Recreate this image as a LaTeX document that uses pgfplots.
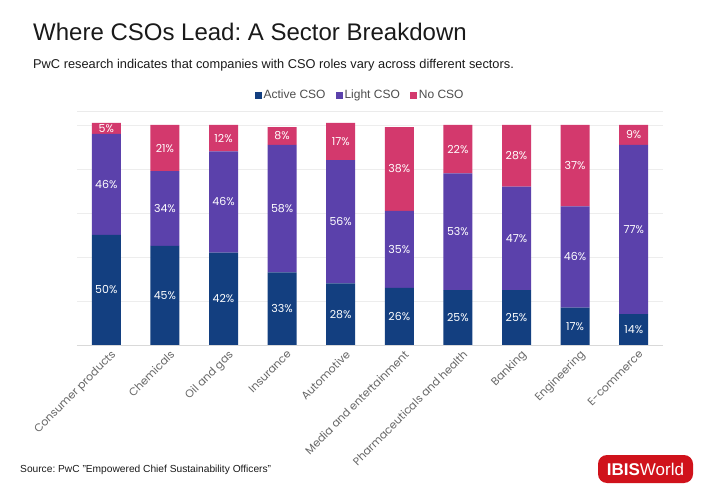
\documentclass[border=0pt]{standalone}
\usepackage{pgfplots}
\pgfplotsset{compat=1.18}
\usepackage{pgfplotstable}
\usepackage{fontspec}
\setmainfont{Liberation Sans}
\newfontfamily\pop{Poppins}
\definecolor{active}{HTML}{133F80}
\definecolor{lightc}{HTML}{5B41AB}
\definecolor{nocso}{HTML}{D3396D}
\definecolor{titlec}{HTML}{1A1A1A}
\definecolor{ibis}{HTML}{D0121B}
\pgfplotstableread{
x a l n
0 50 46 5
1 45 34 21
2 42 46 12
3 33 58 8
4 28 56 17
5 26 35 38
6 25 53 22
7 25 47 28
8 17 46 37
9 14 77 9
}\data
\frenchspacing
\begin{document}
\begin{tikzpicture}[x=1pt,y=1pt]
\path[use as bounding box] (0,0) rectangle (720,498);
\node[anchor=base west, inner sep=0, font=\fontsize{24}{24}\selectfont, text=titlec] at (33,457) {Where CSOs Lead: A Sector Breakdown};
\node[anchor=base west, inner sep=0, font=\fontsize{12.8}{12.8}\selectfont, text=titlec] at (33,429) {PwC research indicates that companies with CSO roles vary across different sectors.};
\draw[black!8, line width=0.8pt] (77,387) -- (663,387);
\begin{axis}[
  at={(77pt,153pt)}, anchor=south west,
  scale only axis, width=586pt, height=220pt,
  xmin=-0.5, xmax=9.5, ymin=0, ymax=100,
  ybar stacked, bar width=29pt,
  axis line style={draw=none},
  ytick={0,20,...,100}, yticklabels={},
  ymajorgrids, grid style={black!7, line width=0.8pt},
  major tick length=0pt,
  xtick={0,...,9},
  xticklabels={Consumer products, Chemicals, Oil and gas, Insurance, Automotive, Media and entertainment, Pharmaceuticals and health, Banking, Engineering, E-commerce},
  xticklabel style={rotate=45, anchor=north east, font=\pop\fontsize{11}{11}\selectfont, text=black!60, inner sep=1pt, xshift=1pt, yshift=-5pt},
  clip=false,
  legend style={at={(0.483,1.136)}, anchor=center, legend columns=-1, draw=none, fill=none, font=\fontsize{12}{12}\selectfont, text=black!70, /tikz/every even column/.append style={column sep=8pt}},
  legend image code/.code={\fill[#1] (0pt,-3.5pt) rectangle (7pt,3.5pt);},
]
\draw[black!15, line width=0.8pt] (axis cs:-0.5,0) -- (axis cs:9.5,0);
\addplot[fill=active, draw=none] table[x=x,y=a]{\data};
\addplot[fill=lightc, draw=none] table[x=x,y=l]{\data};
\addplot[fill=nocso, draw=none] table[x=x,y=n]{\data};
\legend{Active CSO, Light CSO, No CSO}
\end{axis}
\begin{axis}[
  at={(77pt,153pt)}, anchor=south west,
  scale only axis, width=586pt, height=220pt,
  xmin=-0.5, xmax=9.5, ymin=0, ymax=100,
  hide axis, clip=false,
  point meta=explicit,
  /pgf/number format/assume math mode=true,
  nodes near coords={\pgfmathprintnumber{\pgfplotspointmeta}\%},
  every node near coord/.append style={anchor=center, font=\pop\fontsize{11}{11}\selectfont, text=white},
]
\addplot[draw=none, mark=none] table[x=x, y expr=\thisrow{a}/2, meta=a]{\data};
\addplot[draw=none, mark=none] table[x=x, y expr=\thisrow{a}+\thisrow{l}/2, meta=l]{\data};
\addplot[draw=none, mark=none] table[x=x, y expr=\thisrow{a}+\thisrow{l}+\thisrow{n}/2, meta=n]{\data};
\end{axis}
\node[anchor=base west, inner sep=0, font=\fontsize{10.2}{10.2}\selectfont, text=titlec] at (20,26) {Source: PwC "Empowered Chief Sustainability Officers"};
\fill[ibis, rounded corners=9pt] (598,15) rectangle (693,43);
\node[text=white, font=\fontsize{17}{17}\selectfont, inner sep=0] at (645.5,29) {\textbf{IBIS}World};
\end{tikzpicture}
\end{document}
